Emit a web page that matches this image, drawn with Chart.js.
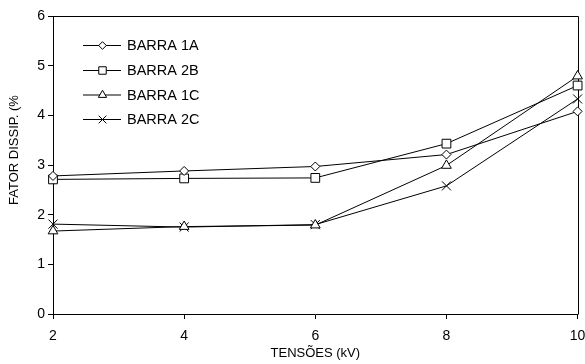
<!DOCTYPE html>
<html>
<head>
<meta charset="utf-8">
<script src="https://cdn.jsdelivr.net/npm/chart.js@4/dist/chart.umd.min.js"></script>
<style>
  html, body { margin: 0; padding: 0; background: #fff; overflow: hidden; }
  #wrap { width: 585px; height: 364px; position: relative; }
</style>
</head>
<body>
<div id="wrap"><canvas id="c" width="585" height="364"></canvas></div>
<script>
const voltages = [2, 4, 6, 8, 10];
const barra1A = [2.78, 2.88, 2.97, 3.21, 4.08];
const barra2B = [2.71, 2.73, 2.74, 3.43, 4.60];
const barra1C = [1.67, 1.76, 1.79, 2.99, 4.79];
const barra2C = [1.81, 1.75, 1.80, 2.58, 4.33];
const seriesNames = ['BARRA 1A', 'BARRA 2B', 'BARRA 1C', 'BARRA 2C'];
const xTitle = 'TENSÕES (kV)';
const yTitle = 'FATOR DISSIP. (%';

const FONT = 'Arial, "Liberation Sans", sans-serif';
const styles = [
  { pointStyle: 'rectRot', radius: 4.5 },
  { pointStyle: 'rect', radius: 6.2 },
  { pointStyle: 'triangle', radius: 5.6 },
  { pointStyle: 'crossRot', radius: 6.4 }
];
const seriesValues = [barra1A, barra2B, barra1C, barra2C];

const datasets = seriesValues.map((vals, i) => ({
  label: seriesNames[i],
  data: vals.map((v, j) => ({ x: voltages[j], y: v })),
  borderColor: '#000',
  borderWidth: 1,
  backgroundColor: '#fff',
  pointStyle: styles[i].pointStyle,
  pointRadius: styles[i].radius,
  pointHoverRadius: styles[i].radius,
  pointBorderColor: '#000',
  pointBackgroundColor: '#fff',
  pointBorderWidth: 1,
  tension: 0,
  clip: false,
  fill: false
}));

const framePlugin = {
  id: 'frame',
  beforeDatasetsDraw(chart) {
    const { ctx, chartArea: a } = chart;
    ctx.save();
    ctx.strokeStyle = '#000';
    ctx.lineWidth = 1;
    ctx.beginPath();
    ctx.moveTo(Math.round(a.left) + 0.5, Math.round(a.top) + 0.5);
    ctx.lineTo(Math.round(a.right) + 0.5, Math.round(a.top) + 0.5);
    ctx.lineTo(Math.round(a.right) + 0.5, Math.round(a.bottom) + 0.5);
    ctx.stroke();
    ctx.restore();
  },
  afterDraw(chart) {
    const { ctx, chartArea: a } = chart;
    ctx.save();
    // y axis title
    ctx.translate(14, 150);
    ctx.rotate(-Math.PI / 2);
    ctx.font = '13px ' + FONT;
    ctx.fillStyle = '#000';
    ctx.textAlign = 'center';
    ctx.textBaseline = 'middle';
    ctx.fillText(yTitle, 0, 0);
    ctx.restore();

    // legend
    ctx.save();
    const x0 = 83, x1 = 121, xm = 102.5, xt = 127;
    const ys = [45, 70, 94.5, 119];
    ctx.font = '14.5px ' + FONT;
    ctx.textBaseline = 'middle';
    ctx.textAlign = 'left';
    chart.data.datasets.forEach((ds, i) => {
      const y = ys[i];
      ctx.strokeStyle = '#000';
      ctx.lineWidth = 1;
      ctx.beginPath();
      ctx.moveTo(x0, y + 0.5);
      ctx.lineTo(x1, y + 0.5);
      ctx.stroke();
      ctx.fillStyle = '#fff';
      ctx.strokeStyle = '#000';
      Chart.helpers.drawPoint(ctx, {
        pointStyle: ds.pointStyle,
        radius: ds.pointRadius * 0.85,
        rotation: 0,
        borderWidth: 1
      }, xm, y + 0.5);
      ctx.fillStyle = '#000';
      ctx.fillText(ds.label, xt, y + 1);
    });
    ctx.restore();
  }
};

new Chart(document.getElementById('c'), {
  type: 'line',
  data: { datasets },
  plugins: [framePlugin],
  options: {
    responsive: false,
    animation: false,
    events: [],
    layout: { padding: { left: 0, right: 7, top: 16, bottom: 0 } },
    plugins: { legend: { display: false }, tooltip: { enabled: false } },
    scales: {
      x: {
        type: 'linear',
        min: 2, max: 10,
        ticks: { stepSize: 2, color: '#000', font: { family: FONT, size: 14 }, padding: 9, maxRotation: 0 },
        grid: { drawOnChartArea: false, drawTicks: true, tickLength: 5, color: '#000' },
        border: { display: true, color: '#000', width: 1 },
        title: { display: true, text: xTitle, color: '#000', font: { family: FONT, size: 13 }, padding: { top: 0, bottom: 3 } },
        afterFit(s) { s.height = 50; s.paddingRight = 0; s.paddingLeft = 0; }
      },
      y: {
        type: 'linear',
        min: 0, max: 6,
        ticks: { stepSize: 1, color: '#000', font: { family: FONT, size: 14 }, padding: 3 },
        grid: { drawOnChartArea: false, drawTicks: true, tickLength: 5, color: '#000' },
        border: { display: true, color: '#000', width: 1 },
        afterFit(s) { s.width = 53; s.paddingTop = 0; s.paddingBottom = 0; }
      }
    }
  }
});
</script>
</body>
</html>
